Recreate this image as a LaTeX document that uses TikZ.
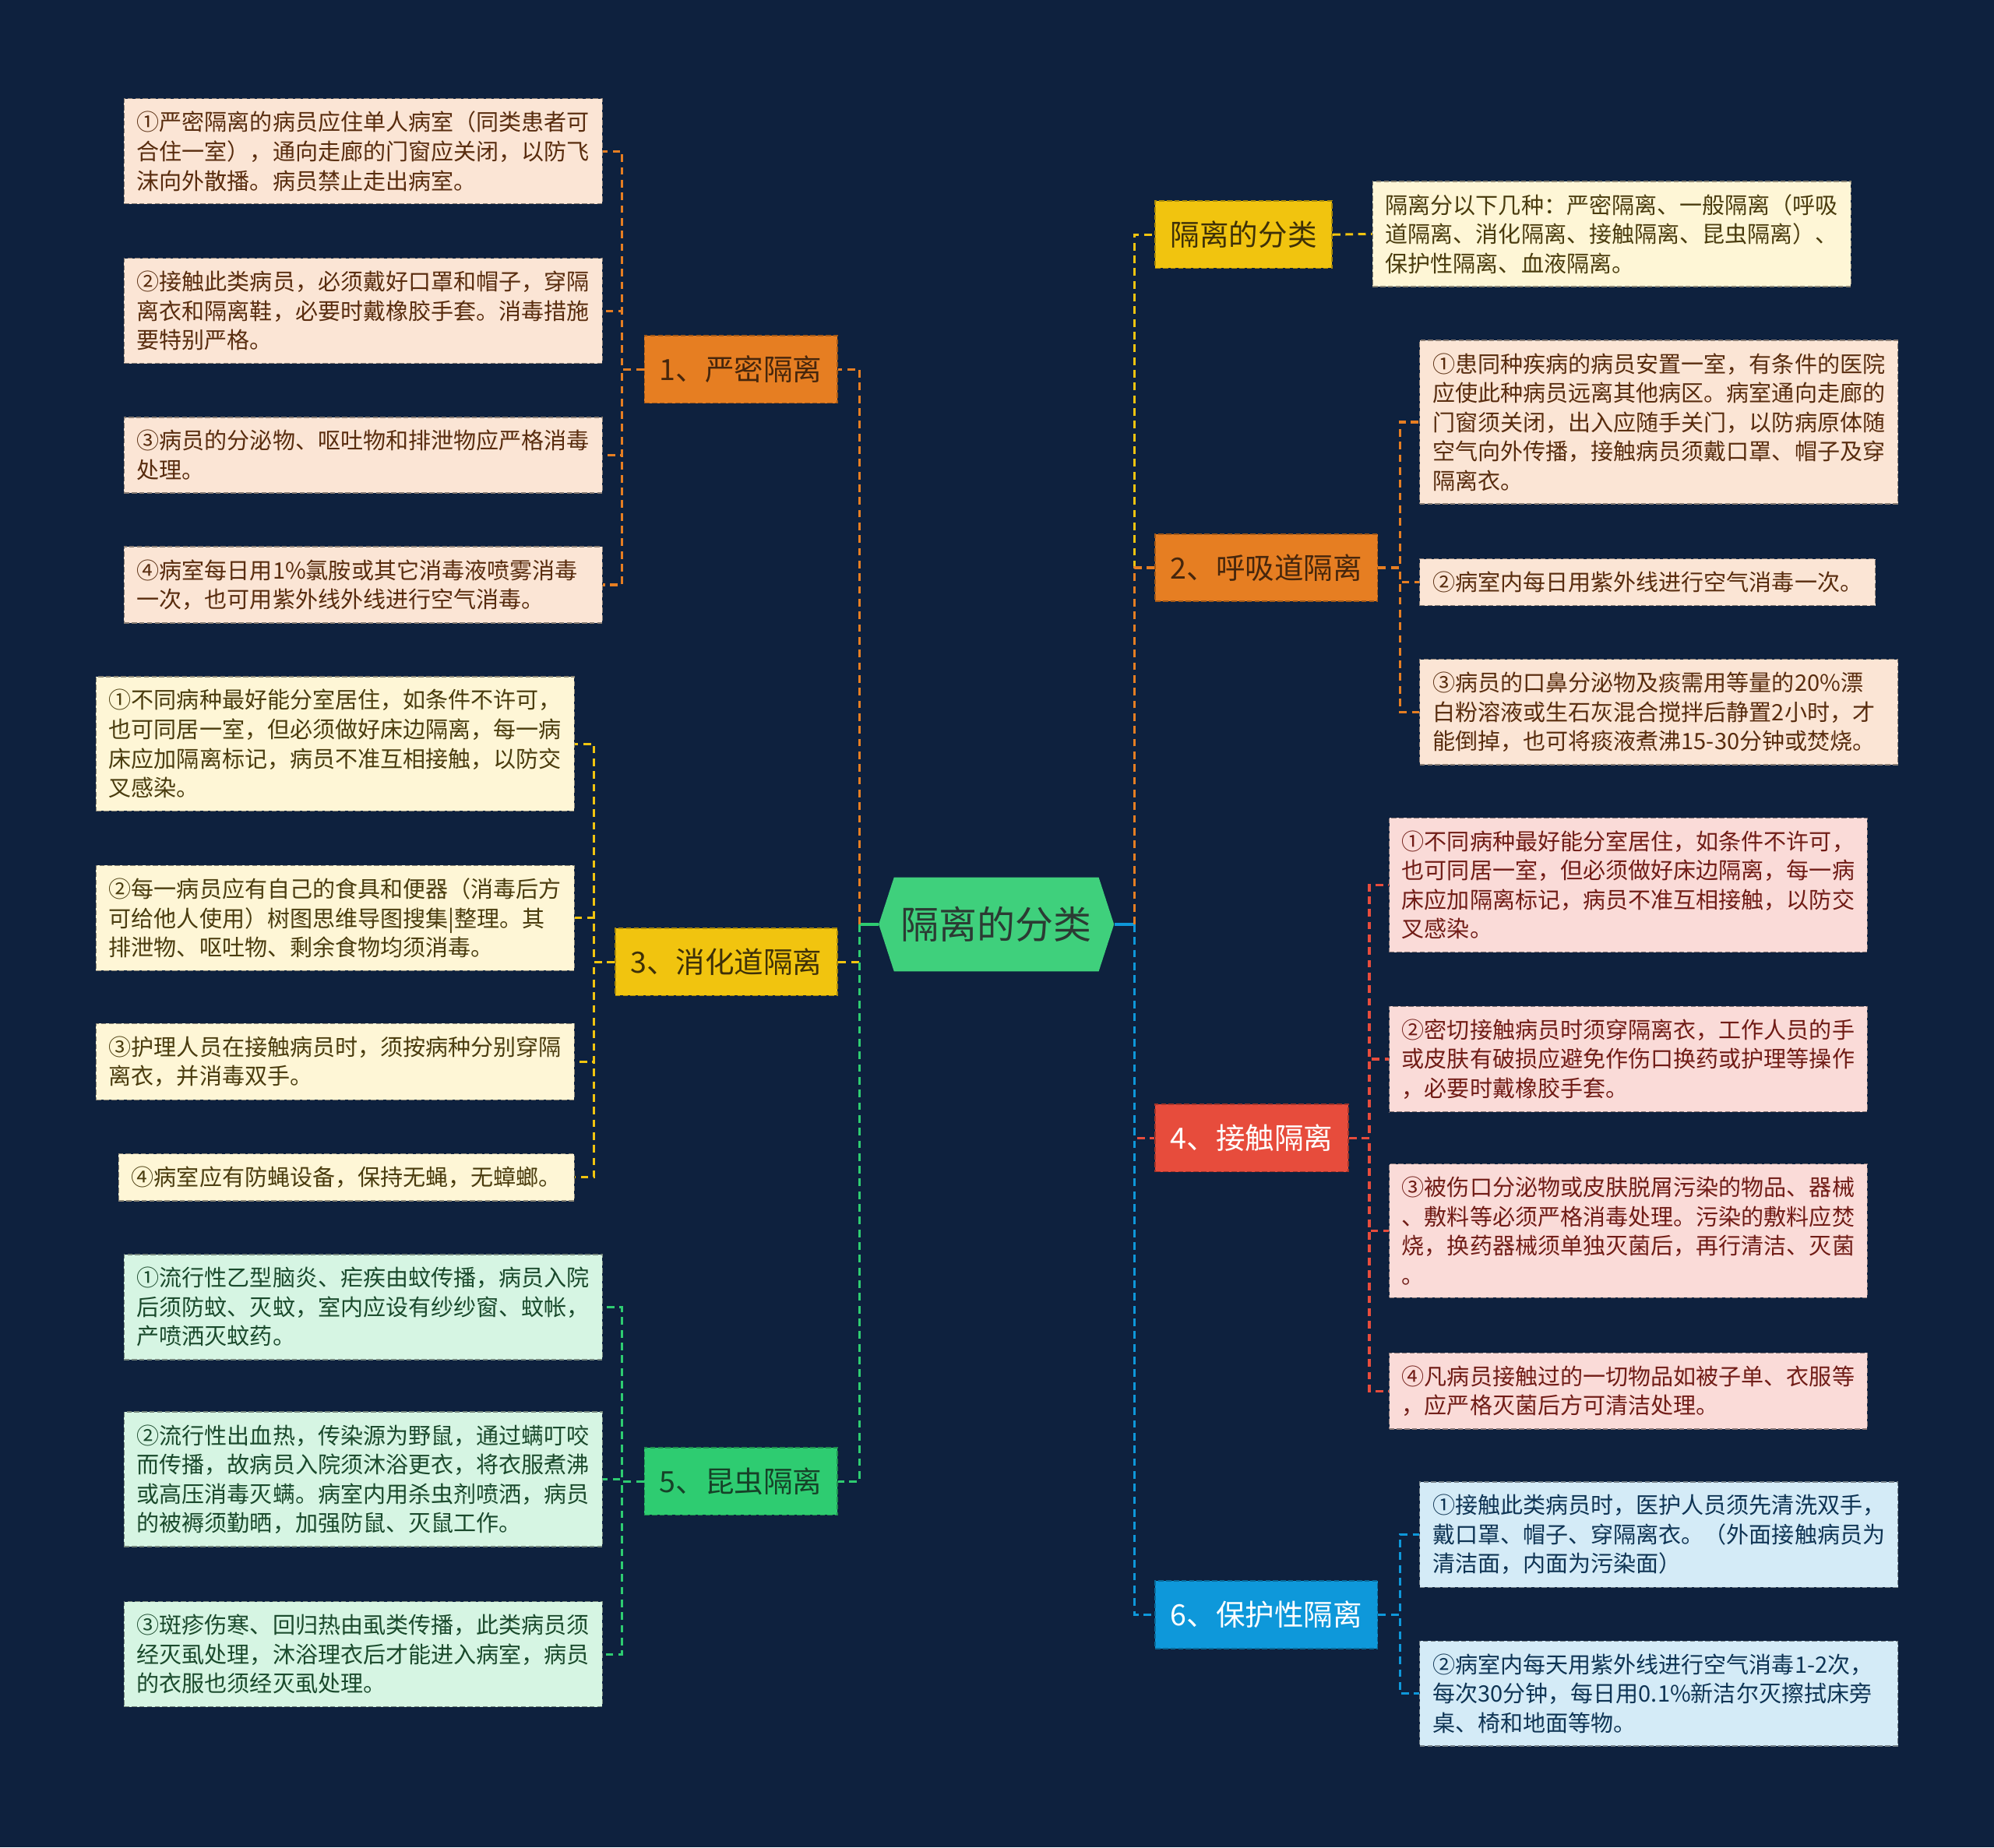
\documentclass[tikz,border=0pt]{standalone}
\usepackage{fontspec}
\setmainfont{Noto Sans CJK SC}
\usetikzlibrary{positioning,shapes.symbols}

\definecolor{bgnavy}{HTML}{0E213E}
\definecolor{orangeB}{HTML}{E67E22}
\definecolor{yellowB}{HTML}{F1C40F}
\definecolor{greenB}{HTML}{2ECC71}
\definecolor{redB}{HTML}{E74C3C}
\definecolor{blueB}{HTML}{0E98DA}
\definecolor{peachL}{HTML}{FBE5D5}
\definecolor{creamL}{HTML}{FEF6D6}
\definecolor{mintL}{HTML}{D6F5E3}
\definecolor{pinkL}{HTML}{FADBD8}
\definecolor{skyL}{HTML}{D4EBF7}
\newcommand{\leaffont}{\fontsize{17.8pt}{23pt}\selectfont}

\begin{document}
\begin{tikzpicture}[x=1pt, y=-1pt,
  leafbase/.style={
    rectangle,
    fill=#1,
    draw=#1!55!black,
    dash pattern=on 4pt off 2pt,
    line width=0.8pt,
    inner xsep=10pt,
    inner ysep=10pt,
    font=\leaffont
  },
  leaf/.style={leafbase=#1, align=left, text width=356pt},
  topic/.style={
    rectangle,
    fill=#1,
    draw=#1!70!black,
    dash pattern=on 4pt off 2pt,
    line width=1pt,
    minimum height=53pt,
    inner xsep=12pt,
    font=\fontsize{23pt}{27pt}\selectfont
  },
  link/.style={draw=#1, line width=1.9pt, dash pattern=on 6pt off 4pt}
]
\fill[bgnavy] (0,0) rectangle (1568,1453);
\useasboundingbox (0,0) rectangle (1568,1453);

\node[shape=signal, signal to=west and east, signal pointer angle=144,
  fill=greenB!92!white, minimum width=185pt, minimum height=74pt, inner sep=0pt,
  text={rgb,255:red,43;green,59;blue,51}, font=\fontsize{30pt}{34pt}\selectfont]
  (c) at (783.5,727) {隔离的分类};

% left topics
\node[topic=orangeB, text={rgb,255:red,70;green,38;blue,12}, anchor=east] (b1) at (659,290.5) {1、严密隔离};
\node[topic=yellowB, text={rgb,255:red,62;green,48;blue,8}, anchor=east] (b3) at (659,756.5) {3、消化道隔离};
\node[topic=greenB, text={rgb,255:red,22;green,66;blue,40}, anchor=east] (b5) at (659,1165) {5、昆虫隔离};
% right topics
\node[topic=yellowB, text={rgb,255:red,62;green,48;blue,8}, anchor=west] (b0) at (908,184.5) {隔离的分类};
\node[topic=orangeB, text={rgb,255:red,70;green,38;blue,12}, anchor=west] (b2) at (908,446.5) {2、呼吸道隔离};
\node[topic=redB, text=white, anchor=west] (b4) at (908,895) {4、接触隔离};
\node[topic=blueB, text=white, anchor=west] (b6) at (908,1270) {6、保护性隔离};

\node[leaf=peachL, text={rgb,255:red,88;green,44;blue,14}, anchor=east] (l1a) at (474,119) {①严密隔离的病员应住单人病室（同类患者可\\合住一室），通向走廊的门窗应关闭，以防飞\\沫向外散播。病员禁止走出病室。};
\node[leaf=peachL, text={rgb,255:red,88;green,44;blue,14}, anchor=east] (l1b) at (474,244.5) {②接触此类病员，必须戴好口罩和帽子，穿隔\\离衣和隔离鞋，必要时戴橡胶手套。消毒措施\\要特别严格。};
\node[leaf=peachL, text={rgb,255:red,88;green,44;blue,14}, anchor=east] (l1c) at (474,358) {③病员的分泌物、呕吐物和排泄物应严格消毒\\处理。};
\node[leaf=peachL, text={rgb,255:red,88;green,44;blue,14}, anchor=east] (l1d) at (474,460) {④病室每日用1\%氯胺或其它消毒液喷雾消毒\\一次，也可用紫外线外线进行空气消毒。};

\node[leaf=creamL, text={rgb,255:red,74;green,60;blue,14}, anchor=east] (l3a) at (452,585) {①不同病种最好能分室居住，如条件不许可，\\也可同居一室，但必须做好床边隔离，每一病\\床应加隔离标记，病员不准互相接触，以防交\\叉感染。};
\node[leaf=creamL, text={rgb,255:red,74;green,60;blue,14}, anchor=east] (l3b) at (452,722) {②每一病员应有自己的食具和便器（消毒后方\\可给他人使用）树图思维导图搜集|整理。其\\排泄物、呕吐物、剩余食物均须消毒。};
\node[leaf=creamL, text={rgb,255:red,74;green,60;blue,14}, anchor=east] (l3c) at (452,835) {③护理人员在接触病员时，须按病种分别穿隔\\离衣，并消毒双手。};
\node[leafbase=creamL, text={rgb,255:red,74;green,60;blue,14}, anchor=east] (l3d) at (452,926) {④病室应有防蝇设备，保持无蝇，无蟑螂。};

\node[leaf=mintL, text={rgb,255:red,26;green,74;blue,44}, anchor=east] (l5a) at (474,1028) {①流行性乙型脑炎、疟疾由蚊传播，病员入院\\后须防蚊、灭蚊，室内应设有纱纱窗、蚊帐，\\产喷洒灭蚊药。};
\node[leaf=mintL, text={rgb,255:red,26;green,74;blue,44}, anchor=east] (l5b) at (474,1163.5) {②流行性出血热，传染源为野鼠，通过螨叮咬\\而传播，故病员入院须沐浴更衣，将衣服煮沸\\或高压消毒灭螨。病室内用杀虫剂喷洒，病员\\的被褥须勤晒，加强防鼠、灭鼠工作。};
\node[leaf=mintL, text={rgb,255:red,26;green,74;blue,44}, anchor=east] (l5c) at (474,1301) {③斑疹伤寒、回归热由虱类传播，此类病员须\\经灭虱处理，沐浴理衣后才能进入病室，病员\\的衣服也须经灭虱处理。};

\node[leaf=creamL, text={rgb,255:red,74;green,60;blue,14}, anchor=west] (r0) at (1079,184) {隔离分以下几种：严密隔离、一般隔离（呼吸\\道隔离、消化隔离、接触隔离、昆虫隔离）、\\保护性隔离、血液隔离。};

\node[leaf=peachL, text={rgb,255:red,88;green,44;blue,14}, anchor=west] (r2a) at (1116,332) {①患同种疾病的病员安置一室，有条件的医院\\应使此种病员远离其他病区。病室通向走廊的\\门窗须关闭，出入应随手关门，以防病原体随\\空气向外传播，接触病员须戴口罩、帽子及穿\\隔离衣。};
\node[leafbase=peachL, text={rgb,255:red,88;green,44;blue,14}, anchor=west] (r2b) at (1116,458) {②病室内每日用紫外线进行空气消毒一次。};
\node[leaf=peachL, text={rgb,255:red,88;green,44;blue,14}, anchor=west] (r2c) at (1116,560) {③病员的口鼻分泌物及痰需用等量的20\%漂\\白粉溶液或生石灰混合搅拌后静置2小时，才\\能倒掉，也可将痰液煮沸15-30分钟或焚烧。};

\node[leaf=pinkL, text={rgb,255:red,112;green,28;blue,22}, anchor=west] (r4a) at (1092,696) {①不同病种最好能分室居住，如条件不许可，\\也可同居一室，但必须做好床边隔离，每一病\\床应加隔离标记，病员不准互相接触，以防交\\叉感染。};
\node[leaf=pinkL, text={rgb,255:red,112;green,28;blue,22}, anchor=west] (r4b) at (1092,833) {②密切接触病员时须穿隔离衣，工作人员的手\\或皮肤有破损应避免作伤口换药或护理等操作\\，必要时戴橡胶手套。};
\node[leaf=pinkL, text={rgb,255:red,112;green,28;blue,22}, anchor=west] (r4c) at (1092,968) {③被伤口分泌物或皮肤脱屑污染的物品、器械\\、敷料等必须严格消毒处理。污染的敷料应焚\\烧，换药器械须单独灭菌后，再行清洁、灭菌\\。};
\node[leaf=pinkL, text={rgb,255:red,112;green,28;blue,22}, anchor=west] (r4d) at (1092,1094) {④凡病员接触过的一切物品如被子单、衣服等\\，应严格灭菌后方可清洁处理。};

\node[leaf=skyL, text={rgb,255:red,14;green,52;blue,84}, anchor=west] (r6a) at (1116,1207) {①接触此类病员时，医护人员须先清洗双手，\\戴口罩、帽子、穿隔离衣。（外面接触病员为\\清洁面，内面为污染面）};
\node[leaf=skyL, text={rgb,255:red,14;green,52;blue,84}, anchor=west] (r6b) at (1116,1332) {②病室内每天用紫外线进行空气消毒1-2次，\\每次30分钟，每日用0.1\%新洁尔灭擦拭床旁\\桌、椅和地面等物。};

% centre stubs and spines
\draw[greenB, line width=1.9pt] (c.west) -- ++(-15,0) coordinate (lsp);
\draw[blueB, line width=1.9pt] (c.east) -- ++(16,0) coordinate (rsp);
\draw[link=orangeB] (lsp) |- (b1.east);
\draw[link=yellowB] (lsp) |- (b3.east);
\draw[link=greenB] (lsp) |- (b5.east);
\draw[link=yellowB] (rsp) |- (b0.west);
\draw[link=orangeB] (rsp) |- (b2.west);
\draw[link=redB] (rsp) |- (b4.west);
\draw[link=blueB] (rsp) |- (b6.west);

\foreach \n in {l1a,l1b,l1c,l1d}
  \draw[link=orangeB] (b1.west) -- ++(-17,0) |- (\n.east);
\foreach \n in {l3a,l3b,l3c,l3d}
  \draw[link=yellowB] (b3.west) -- ++(-16,0) |- (\n.east);
\foreach \n in {l5a,l5b,l5c}
  \draw[link=greenB] (b5.west) -- ++(-17,0) |- (\n.east);
\draw[link=yellowB] (b0.east) -- (r0.west);
\foreach \n in {r2a,r2b,r2c}
  \draw[link=orangeB] (b2.east) -- ++(17,0) |- (\n.west);
\foreach \n in {r4a,r4b,r4c,r4d}
  \draw[link=redB] (b4.east) -- ++(16,0) |- (\n.west);
\foreach \n in {r6a,r6b}
  \draw[link=blueB] (b6.east) -- ++(17,0) |- (\n.west);
\end{tikzpicture}
\end{document}
